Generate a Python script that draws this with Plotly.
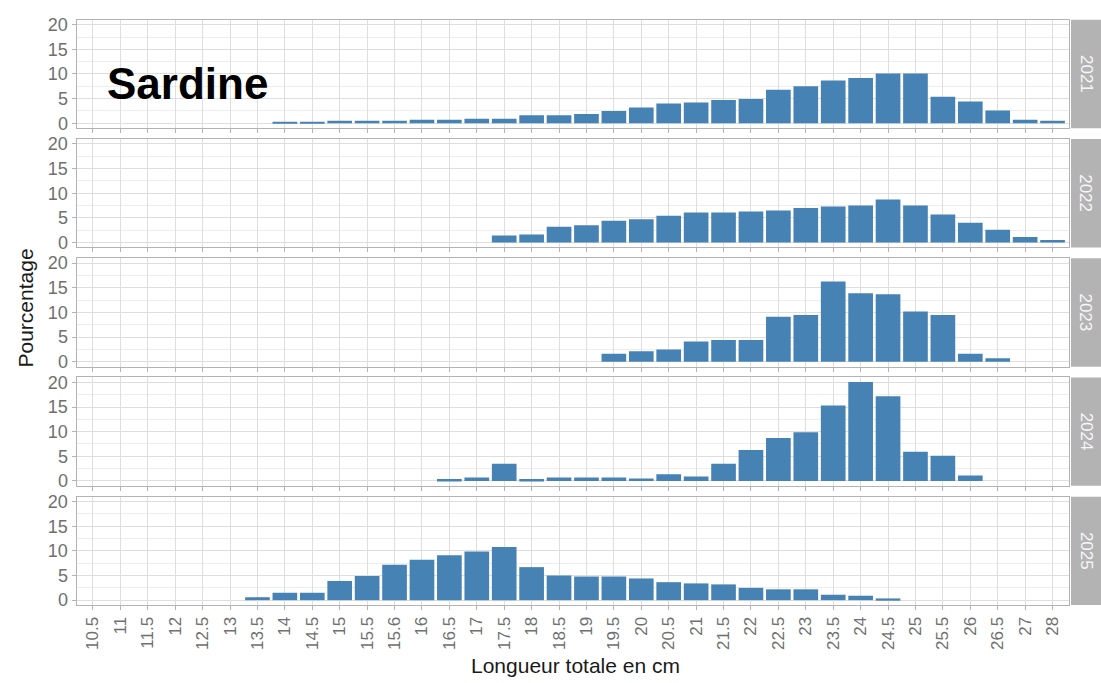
import plotly.graph_objects as go

# ---------------- data ----------------
categories = ["10.5", "11", "11.5", "12", "12.5", "13", "13.5", "14", "14.5", "15",
              "15.5", "15.6", "16", "16.5", "17", "17.5", "18", "18.5", "19", "19.5",
              "20", "20.5", "21", "21.5", "22", "22.5", "23", "23.5", "24", "24.5",
              "25", "25.5", "26", "26.5", "27", "28"]

years = ["2021", "2022", "2023", "2024", "2025"]

N = None
pct_2021 = [N, N, N, N, N, N, N, 0.3, 0.3, 0.5, 0.5, 0.5, 0.7, 0.7, 0.9, 0.9, 1.6, 1.6, 1.9, 2.5,
            3.2, 4.0, 4.2, 4.7, 4.9, 6.8, 7.5, 8.7, 9.2, 10.1, 10.1, 5.4, 4.4, 2.6, 0.7, 0.5]
pct_2022 = [N, N, N, N, N, N, N, N, N, N, N, N, N, N, N, 1.4, 1.6, 3.2, 3.5, 4.4,
            4.7, 5.4, 6.1, 6.1, 6.3, 6.5, 7.0, 7.3, 7.5, 8.7, 7.5, 5.7, 4.0, 2.6, 1.1, 0.5]
pct_2023 = [N, N, N, N, N, N, N, N, N, N, N, N, N, N, N, N, N, N, N, 1.6,
            2.1, 2.5, 4.1, 4.4, 4.4, 9.1, 9.5, 16.3, 13.9, 13.7, 10.2, 9.5, 1.6, 0.7, N, N]
pct_2024 = [N, N, N, N, N, N, N, N, N, N, N, N, N, 0.4, 0.7, 3.5, 0.4, 0.7, 0.7, 0.7,
            0.5, 1.35, 0.9, 3.5, 6.3, 8.7, 9.9, 15.3, 20.1, 17.2, 5.9, 5.1, 1.1, N, N, N]
pct_2025 = [N, N, N, N, N, N, 0.6, 1.5, 1.5, 3.9, 4.9, 7.2, 8.2, 9.1, 9.9, 10.8, 6.7, 5.0, 4.8, 4.8,
            4.4, 3.65, 3.4, 3.2, 2.5, 2.2, 2.2, 1.1, 0.9, 0.35, N, N, N, N, N, N]

series = [pct_2021, pct_2022, pct_2023, pct_2024, pct_2025]
y_ticks = [0, 5, 10, 15, 20]

# ---------------- layout helpers ----------------
W, H = 1101, 683
panel_left, panel_right = 76.5, 1069.0
strip_left, strip_right = 1071.0, 1101.0
panels_px = [(15, 125), (136, 246), (257, 367), (378, 488), (499, 609)]

def px_x(v):
    return v / W

def px_y(v):
    return 1 - v / H

BAR = "#4682B4"
BORDER = "#B3B3B3"
GRID = "#DEDEDE"
MINOR = "#EDEDED"
TICKTXT = "#707070"
FONT = "Liberation Sans"

fig = go.Figure()
layout = dict(
    width=W, height=H,
    margin=dict(l=0, r=0, t=0, b=0),
    paper_bgcolor="white", plot_bgcolor="white",
    showlegend=False, bargap=0.1,
    font=dict(family=FONT, color=TICKTXT),
)

shapes = []
annotations = []

for i, (yr, vals) in enumerate(zip(years, series)):
    k = "" if i == 0 else str(i + 1)
    fig.add_trace(go.Bar(
        x=categories, y=vals, marker=dict(color=BAR, line=dict(width=0)),
        xaxis="x" + k, yaxis="y" + k, width=0.9,
    ))
    top, bot = panels_px[i]
    last = (i == len(years) - 1)
    layout["xaxis" + k] = dict(
        domain=[px_x(panel_left), px_x(panel_right)],
        anchor="y" + k,
        type="category",
        categoryorder="array", categoryarray=categories,
        range=[-0.6, len(categories) - 0.4],
        showgrid=True, gridcolor=GRID, gridwidth=1,
        showline=True, linecolor=BORDER, linewidth=1, mirror=True,
        ticks="outside", ticklen=4, tickcolor=BORDER,
        showticklabels=last, tickangle=-90,
        tickfont=dict(family=FONT, size=17, color=TICKTXT),
        zeroline=False,
    )
    if i > 0:
        layout["xaxis" + k]["matches"] = "x"
    layout["yaxis" + k] = dict(
        domain=[px_y(bot), px_y(top)],
        anchor="x" + k,
        range=[-1, 21],
        tickvals=y_ticks, ticktext=[str(t) for t in y_ticks],
        showgrid=True, gridcolor=GRID, gridwidth=1,
        minor=dict(tickvals=[2.5, 7.5, 12.5, 17.5], showgrid=True, gridcolor=MINOR, gridwidth=1, ticks=""),
        showline=True, linecolor=BORDER, linewidth=1, mirror=True,
        ticks="outside", ticklen=4, tickcolor=BORDER,
        tickfont=dict(family=FONT, size=18, color=TICKTXT),
        zeroline=False,
    )
    # facet strip on the right
    shapes.append(dict(
        type="rect", xref="paper", yref="paper",
        x0=px_x(strip_left), x1=px_x(strip_right),
        y0=px_y(bot), y1=px_y(top),
        fillcolor=BORDER, line=dict(width=0), layer="below",
    ))
    annotations.append(dict(
        xref="paper", yref="paper",
        x=px_x((strip_left + strip_right) / 2), y=px_y((top + bot) / 2),
        text=yr, textangle=90, showarrow=False,
        font=dict(family=FONT, size=17, color="#F7F7F7"),
        xanchor="center", yanchor="middle",
    ))

# axis titles
annotations.append(dict(
    xref="paper", yref="paper", x=px_x(575), y=px_y(670),
    text="Longueur totale en cm", showarrow=False,
    font=dict(family=FONT, size=21, color="#1A1A1A"),
    xanchor="center", yanchor="middle",
))
annotations.append(dict(
    xref="paper", yref="paper", x=px_x(25), y=px_y(308),
    text="Pourcentage", textangle=-90, showarrow=False,
    font=dict(family=FONT, size=21, color="#1A1A1A"),
    xanchor="center", yanchor="middle",
))
# species label
annotations.append(dict(
    xref="paper", yref="paper", x=px_x(187), y=px_y(80),
    text="<b>Sardine</b>", showarrow=False,
    font=dict(family=FONT, size=44, color="#000000"),
    xanchor="center", yanchor="middle",
))

layout["shapes"] = shapes
layout["annotations"] = annotations
fig.update_layout(**layout)

fig.write_html(
    "out.html",
    config={"displayModeBar": False},
    post_script="document.body.style.margin='0';document.body.style.padding='0';document.body.style.overflow='hidden';",
)
